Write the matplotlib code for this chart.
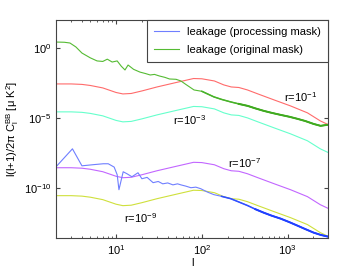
import numpy as np
import matplotlib.pyplot as plt

plt.rcParams['font.family'] = ['Liberation Sans', 'DejaVu Sans']
plt.rcParams['mathtext.fontset'] = 'custom'
plt.rcParams['mathtext.rm'] = 'Liberation Sans'
plt.rcParams['mathtext.it'] = 'Liberation Sans'

# tensor BB spectrum for r = 0.1
ell_t = [2, 3, 4, 5, 7, 10, 12, 15, 20, 30, 50, 80, 100, 140, 180, 220, 270,
         340, 450, 700, 1080, 1700, 2400, 3000]
cl_r01 = [2.7e-3, 2.7e-3, 2.5e-3, 2.1e-3, 1.4e-3, 6.6e-4, 5.2e-4, 5.6e-4,
          8.5e-4, 1.64e-3, 3.4e-3, 6.6e-3, 6.3e-3, 4.4e-3, 2.3e-3, 1.64e-3,
          1.5e-3, 1.0e-3, 5.2e-4, 1.9e-4, 7.2e-5, 2.3e-5, 6.1e-6, 3.2e-6]
r_values = [1e-1, 1e-3, 1e-7, 1e-9]
r_colors = ['#ff6b6b', '#66ffcc', '#c266ff', '#cfe03c']

# leakage, original mask
ell_orig = [2, 2.5, 2.9, 3.4, 4, 5, 6, 7, 7.9, 9, 10.3, 11.5, 12.7, 13.8, 16,
            19, 22, 25, 28, 32, 37, 42, 50, 57, 65, 81, 100, 138, 170, 217,
            270, 343, 420, 525, 650, 829, 1050, 1307, 1600, 2005, 2420, 2917]
cl_orig = [2.7, 2.6, 2.3, 1.2, 0.44, 0.2, 0.12, 0.11, 0.16, 0.1, 0.12, 0.05,
           0.027, 0.061, 0.03, 0.019, 0.015, 0.0118, 0.013, 0.0100, 0.008,
           0.0061, 0.0058, 0.0044, 0.0025, 0.001, 8e-4, 3.2e-4, 2.1e-4,
           1.39e-4, 1.0e-4, 7.2e-5, 4.8e-5, 3.2e-5, 2.3e-5, 1.64e-5, 1.2e-5,
           8.5e-6, 6.0e-6, 3.7e-6, 2.7e-6, 3.2e-6]

# leakage, processing mask
ell_proc = [2, 3.1, 4, 5.5, 7.1, 8.1, 9.5, 10.3, 10.8, 12.1, 13.4, 15.3, 18,
            20, 23, 27, 31, 35, 40, 46, 52, 57, 65, 74.5, 85, 97, 115, 138,
            170, 217, 270, 343, 420, 525, 650, 829, 1050, 1307, 1600, 2005,
            2420, 2917]
cl_proc = [3.2e-9, 6.1e-8, 3.7e-9, 4.5e-9, 5.2e-9, 5.2e-9, 3.0e-9, 8.5e-10,
           7.2e-11, 1.39e-9, 1.0e-9, 6.1e-10, 1.18e-9, 4.4e-10, 5.5e-10,
           2.3e-10, 2.8e-10, 1.9e-10, 2.2e-10, 1.6e-10, 1.9e-10, 1.6e-10,
           1.3e-10, 1.0e-10, 1.1e-10, 8.5e-11, 5.0e-11, 3.2e-11, 2.4e-11,
           1.64e-11, 9.5e-12, 5.2e-12, 2.9e-12, 1.64e-12, 1.0e-12, 6.1e-13,
           3.4e-13, 1.9e-13, 1.1e-13, 6.1e-14, 4.2e-14, 3.2e-14]

r_labels = [r'r=10$^{-1}$', r'r=10$^{-3}$', r'r=10$^{-7}$', r'r=10$^{-9}$']
label_ell = [1415, 72, 316, 19.5]
label_cl = [3.2e-4, 7.2e-6, 6.1e-9, 7.2e-13]

fig = plt.figure(figsize=(3.62, 2.72), dpi=100)
ax = fig.add_axes([0.155, 0.125, 0.751, 0.801])

base = np.array(cl_r01)
for r, c in zip(r_values, r_colors):
    ax.plot(ell_t, base * r / 0.1, color=c, lw=0.8)

ell_o = np.array(ell_orig)
cl_o = np.array(cl_orig)
ell_p = np.array(ell_proc)
cl_p = np.array(cl_proc)

lp, = ax.plot(ell_p, cl_p, color='#6f7fff', lw=0.8)
hi = ell_p >= 170
ax.plot(ell_p[hi], cl_p[hi], color='#3050ff', lw=1.1)
hi = ell_p >= 420
ax.plot(ell_p[hi], cl_p[hi], color='#2040ff', lw=1.4)
lo, = ax.plot(ell_o, cl_o, color='#55bb33', lw=0.8)
hi = ell_o >= 100
ax.plot(ell_o[hi], cl_o[hi], color='#48b22a', lw=1.1)
hi = ell_o >= 270
ax.plot(ell_o[hi], cl_o[hi], color='#40aa20', lw=1.4)

for txt, x, y in zip(r_labels, label_ell, label_cl):
    ax.text(x, y, txt, fontsize=8, ha='center', va='center')

ax.set_xscale('log')
ax.set_yscale('log')
ax.set_xlim(2, 2950)
ax.set_ylim(10 ** -13.6, 1e2)
ax.set_yticks([1e-10, 1e-5, 1e0])
ax.yaxis.set_minor_locator(plt.NullLocator())
ax.tick_params(which='both', direction='in', top=True, right=True,
               labelsize=8, color='#444444')
ax.tick_params(which='major', length=3)
ax.tick_params(which='minor', length=1.5)
for s in ax.spines.values():
    s.set_color('#444444')
    s.set_linewidth(0.8)

ax.set_xlabel('l', fontsize=8, labelpad=1)
ax.set_ylabel(r'l(l+1)/2$\pi$ C$_\mathrm{l}^\mathrm{BB}$ [$\mu$ K$^2$]',
              fontsize=8, labelpad=2)

leg = ax.legend([lp, lo], ['leakage (processing mask)', 'leakage (original mask)'],
                loc='upper right', fontsize=8, fancybox=False, framealpha=1,
                edgecolor='#444444', borderaxespad=0, handlelength=2.2,
                borderpad=0.6, labelspacing=0.75)
leg.get_frame().set_linewidth(0.8)

fig.savefig('out.png', dpi=100)
